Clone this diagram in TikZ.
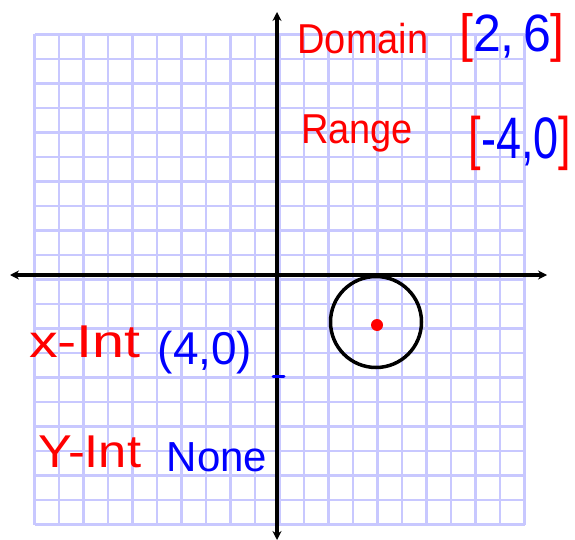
\documentclass[tikz,border=0pt]{standalone}
\usepackage{fontspec}
\setmainfont{Liberation Sans}
\usetikzlibrary{arrows.meta}
\definecolor{gridc}{HTML}{C8C8FF}
\definecolor{penred}{HTML}{FF0000}
\definecolor{penblue}{HTML}{0000FF}
\tikzset{
  gridline/.style={draw=gridc, line width=2.8pt},
  axisline/.style={draw=black, line width=3.2pt, -{Stealth[length=9pt,width=9pt]}},
  redtxt/.style={text=penred, inner sep=0pt, anchor=center},
  bluetxt/.style={text=penblue, inner sep=0pt, anchor=center},
}
\begin{document}
\begin{tikzpicture}[x=1pt,y=-1pt]
\useasboundingbox (0,0) rectangle (575,540);
\fill[white] (0,0) rectangle (575,540);
% grid
\foreach \i in {0,...,20}{
  \draw[gridline] ({34.5+24.5*\i},34.5) -- ({34.5+24.5*\i},524.5);
  \draw[gridline] (34.5,{34.5+24.5*\i}) -- (524.5,{34.5+24.5*\i});
}
% axes
\coordinate (xl) at (10,275);
\coordinate (xr) at (547,275);
\coordinate (yt) at (277,12);
\coordinate (yb) at (277,540);
\draw[axisline] (277,275) -- (xl);
\draw[axisline] (277,275) -- (xr);
\draw[axisline] (277,275) -- (yt);
\draw[axisline] (277,275) -- (yb);
% circle
\coordinate (c) at (376,322);
\draw[line width=3.5pt] (c) circle[radius=45.5];
\fill[penred] (377,325) circle[radius=6];
% blue tick
\draw[penblue, line width=3pt, line cap=round] (273,376) -- (284,376);
% labels
\node[redtxt, font=\fontsize{38}{38}\selectfont, yscale=1.1] (dom) at (363,39) {Domain};
\node[inner sep=0pt, font=\fontsize{50}{50}\selectfont, yscale=1.05] (domv) at (512,38) {\textcolor{penred}{[}\textcolor{penblue}{2,\,6}\textcolor{penred}{]}};
\node[redtxt, font=\fontsize{38}{38}\selectfont, yscale=1.1] (ran) at (357,133) {Range};
\node[inner sep=0pt, font=\fontsize{45}{45}\selectfont, yscale=1.3] (ranv) at (520,143) {\textcolor{penred}{[}\textcolor{penblue}{-4,0}\textcolor{penred}{]}};
\node[redtxt, font=\fontsize{46}{46}\selectfont, xscale=1.25] (xint) at (85,342) {x-Int};
\node[bluetxt, font=\fontsize{46}{46}\selectfont] (xintv) at (205,353) {(4,0)};
\node[redtxt, font=\fontsize{46}{46}\selectfont, xscale=1.1] (yint) at (90,452) {Y-Int};
\node[bluetxt, font=\fontsize{42}{42}\selectfont] (yintv) at (217,457) {None};
\end{tikzpicture}
\end{document}
